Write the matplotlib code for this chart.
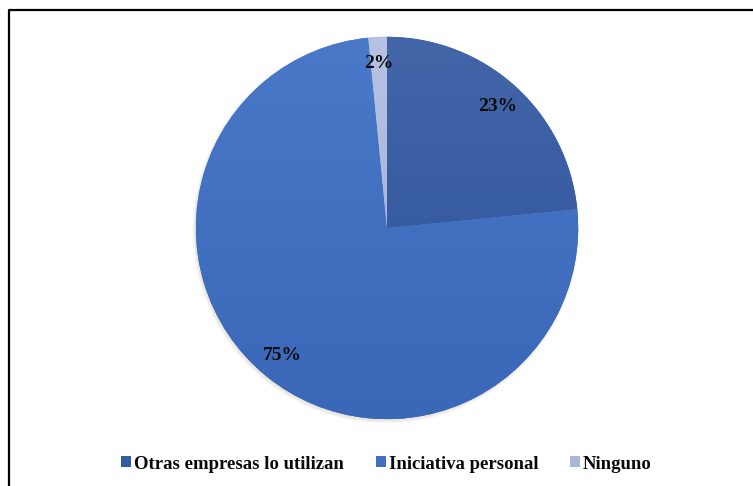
import numpy as np
import matplotlib.pyplot as plt
from matplotlib.lines import Line2D
from matplotlib.patches import Circle
from matplotlib.colors import LinearSegmentedColormap

categorias = ["Otras empresas lo utilizan", "Iniciativa personal", "Ninguno"]
respuestas = [15, 48, 1]
colores = ["#335ca3", "#4170c2", "#a8b6dc"]
# tonos claro/oscuro para el degradado de cada sector
tonos = [("#4466a9", "#2b5198"), ("#4a79ca", "#3a67b8"), ("#b6c2e2", "#9eaed6")]

plt.rcParams['font.family'] = ['Liberation Serif', 'DejaVu Serif']

fig = plt.figure(figsize=(7.53, 4.86), dpi=100)
ax = fig.add_axes([192 / 753, 1 - 423 / 486, 390 / 753, 390 / 486])

# sombra suave detras del circulo
for k in range(4):
    ax.add_patch(Circle((-0.006, -0.01), 1.0 + 0.004 * k, color="#7a6a40",
                        alpha=0.04, lw=0, zorder=0))

wedges, texts, autotexts = ax.pie(
    respuestas, colors=colores, startangle=90, counterclock=False,
    autopct='%.0f%%', pctdistance=0.86, radius=1.0,
    wedgeprops=dict(linewidth=0),
    textprops=dict(fontsize=14, fontweight="bold", color="#0a0a0a"))

# degradado vertical recortado a cada sector
grad = np.linspace(0, 1, 256).reshape(-1, 1)
for w, (claro, oscuro) in zip(wedges, tonos):
    cmap = LinearSegmentedColormap.from_list("g", [claro, oscuro])
    im = ax.imshow(grad, extent=(-1, 1, -1, 1), origin="upper", cmap=cmap,
                   aspect="auto", zorder=w.get_zorder() + 0.1,
                   interpolation="bilinear")
    im.set_clip_path(w)
for t in autotexts:
    t.set_zorder(5)

ax.set_xlim(-1.02, 1.02)
ax.set_ylim(-1.02, 1.02)
ax.set_aspect("equal")
ax.axis("off")

leg = fig.legend(wedges, categorias, loc="center", bbox_to_anchor=(386.5 / 753, 1 - 464 / 486),
                 ncol=3, frameon=False, handlelength=0.53, handleheight=0.53,
                 handletextpad=0.16, columnspacing=1.7,
                 prop=dict(size=13.5, weight="bold"))
for h, c in zip(leg.legend_handles, colores):
    h.set_facecolor(c)
    h.set_edgecolor(c)
for t in leg.get_texts():
    t.set_color("#0a0a0a")

# marco negro arriba e izquierda
x0 = 8.5 / 753
y0 = 1 - 10.5 / 486
fig.add_artist(Line2D([x0, x0, 1], [0, y0, y0], color="black", lw=1.6,
                      transform=fig.transFigure))

fig.savefig("out.png", dpi=100)
